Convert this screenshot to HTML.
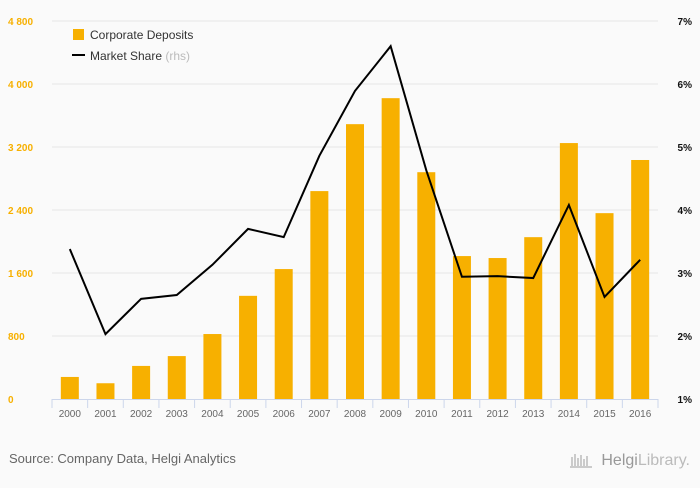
<!DOCTYPE html>
<html><head><meta charset="utf-8"><style>
body{margin:0;background:#fafafa;font-family:"Liberation Sans",sans-serif}
svg text{font-family:"Liberation Sans",sans-serif}
</style></head><body>
<svg id="chart" width="700" height="483" xmlns="http://www.w3.org/2000/svg">
<rect x="0" y="0" width="700" height="483" fill="#fafafa"/>
<g id="grid"></g><g id="bars"></g><g id="line"></g><g id="axes"></g>
<g>
<rect x="73" y="29" width="11" height="11" fill="#f7b000"/>
<text x="90" y="39" font-size="12" fill="#333">Corporate Deposits</text>
<line x1="72" y1="55" x2="85" y2="55" stroke="#000" stroke-width="2"/>
<text x="90" y="60" font-size="12" fill="#333">Market Share <tspan fill="#bbb">(rhs)</tspan></text>
</g>
<text x="9" y="463" font-size="13" fill="#666">Source: Company Data, Helgi Analytics</text>
<g>
<path d="M570 467h22M572 466v-9M575 466v-12M578 466v-8M581 466v-11M584 466v-7M587 466v-10" stroke="#bbb" stroke-width="1.5" fill="none"/>
<text x="690" y="465" font-size="16" fill="#bbb" text-anchor="end"><tspan fill="#999">Helgi</tspan>Library.</text>
</g>
</svg>
<script>
const years=["2000","2001","2002","2003","2004","2005","2006","2007","2008","2009","2010","2011","2012","2013","2014","2015","2016"];
const deposits=[280,200,420,545,825,1310,1650,2640,3490,3820,2880,1815,1790,2055,3250,2360,3035];
const share=[3.38,2.03,2.59,2.65,3.13,3.70,3.57,4.86,5.89,6.60,4.63,2.94,2.95,2.92,4.08,2.62,3.21];
const leftTicks=[0,800,1600,2400,3200,4000,4800];
const leftTickLabels=["0","800","1 600","2 400","3 200","4 000","4 800"];
const rightTicks=[1,2,3,4,5,6,7];
const rightTickLabels=["1%","2%","3%","4%","5%","6%","7%"];
const NS="http://www.w3.org/2000/svg";
const x0=52,x1=658,yB=399,yT=21;
const step=(x1-x0)/years.length;
const xs=i=>x0+step*(i+0.5);
const yL=v=>yB-(v/4800)*(yB-yT);
const yR=v=>yB-((v-1)/6)*(yB-yT);
function mk(tag,attrs,parent){const e=document.createElementNS(NS,tag);for(const k in attrs)e.setAttribute(k,attrs[k]);document.getElementById(parent).appendChild(e);return e;}
leftTicks.forEach((t,i)=>{
 if(i>0){
 const g=mk("line",{x1:x0,x2:x1,y1:yL(t),y2:yL(t),stroke:"#e6e6e6"},"grid");
 
 
 }
 const l=mk("text",{x:8,y:yL(t)+4,"font-size":10,"font-weight":"bold",fill:"#f7b000"},"axes");l.textContent=leftTickLabels[i];
 
 
});
rightTicks.forEach((t,i)=>{
 const l=mk("text",{x:692,y:yR(t)+4,"font-size":10,"font-weight":"bold",fill:"#111","text-anchor":"end"},"axes");l.textContent=rightTickLabels[i];
 
 
});
years.forEach((y,i)=>{
 const b=mk("rect",{x:xs(i)-9,y:yL(deposits[i]),width:18,height:yB-yL(deposits[i]),fill:"#f7b000"},"bars");
 
 
 const l=mk("text",{x:xs(i),y:417,"font-size":10,fill:"#666","text-anchor":"middle"},"axes");l.textContent=y;
 
 
});
const ax=mk("line",{x1:x0,x2:x1,y1:yB+0.5,y2:yB+0.5,stroke:"#ccd6eb"},"axes");


for(let i=0;i<=years.length;i++){
 const tk=mk("line",{x1:x0+step*i,x2:x0+step*i,y1:yB,y2:yB+9,stroke:"#ccd6eb"},"axes");
 
 
}
const p=mk("polyline",{points:share.map((v,i)=>xs(i)+","+yR(v)).join(" "),fill:"none",stroke:"#000","stroke-width":2},"line");


</script>
</body></html>
